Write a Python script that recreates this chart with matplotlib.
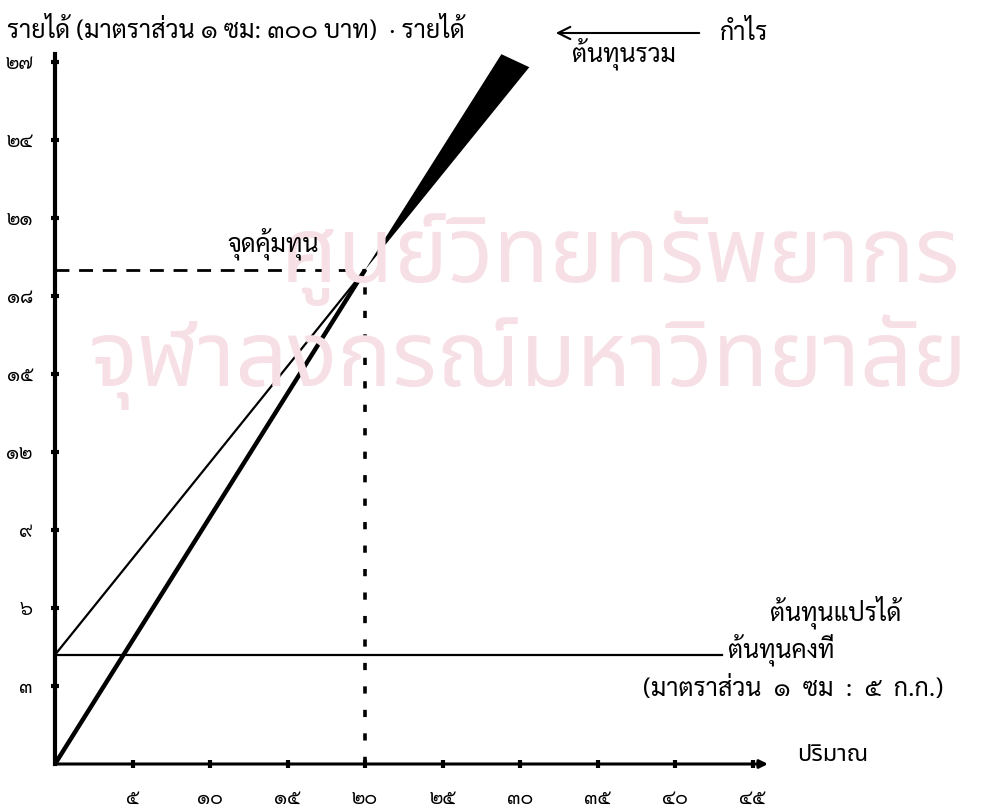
import matplotlib
matplotlib.use("Agg")
import matplotlib.pyplot as plt

plt.rcParams["font.family"] = ["Sarabun", "Noto Sans Thai", "DejaVu Sans"]

# ปริมาณ (แกน x) และ รายได้/ต้นทุน (แกน y) - ค่าประมาณจากภาพ
x_ticks = [5, 10, 15, 20, 25, 30, 35, 40, 45]
x_labels = ["๕", "๑๐", "๑๕", "๒๐", "๒๕", "๓๐", "๓๕", "๔๐", "๔๕"]
y_ticks = [3, 6, 9, 12, 15, 18, 21, 24, 27]
y_labels = ["๓", "๖", "๙", "๑๒", "๑๕", "๑๘", "๒๑", "๒๔", "๒๗"]

# เส้นรายได้
rev_x = [0, 20, 28.8]
rev_y = [0, 19.0, 27.3]
# เส้นต้นทุนรวม
tc_x = [0, 20, 30.6]
tc_y = [4.2, 19.0, 26.8]
# ต้นทุนคงที่
fc_x = [0, 43]
fc_y = [4.2, 4.2]
# จุดคุ้มทุน
bep_x = 20
bep_y = 19.0

W, H = 998, 808


def px(x, y):
    # พิกัดพิกเซลของภาพ -> figure fraction
    return x / W, 1 - y / H


fig = plt.figure(figsize=(W / 100, H / 100), dpi=100)
ax = fig.add_axes([55 / W, 44 / H, 713 / W, 27.6 * 26 / H])
ax.set_xlim(0, 46)
ax.set_ylim(0, 27.6)

# ลายน้ำ
wm = "#f7dfe6"
fig.text(*px(620, 258), "ศูนย์วิทยทรัพยากร", fontsize=66, color=wm, ha="center",
         va="center", family=["Noto Sans Thai", "DejaVu Sans"], fontweight="medium", zorder=0)
fig.text(*px(528, 362), "จุฬาลงกรณ์มหาวิทยาลัย", fontsize=66, color=wm, ha="center",
         va="center", family=["Noto Sans Thai", "DejaVu Sans"], fontweight="medium", zorder=0)

# กำไร (พื้นที่ระหว่างรายได้กับต้นทุนรวม)
ax.fill([bep_x, rev_x[2], tc_x[2]], [bep_y, rev_y[2], tc_y[2]], color="black", lw=0)

ax.plot(rev_x[:2], rev_y[:2], color="black", lw=3.2, solid_capstyle="butt")
ax.plot(tc_x[:2], tc_y[:2], color="black", lw=1.6)
ax.plot(fc_x, fc_y, color="black", lw=1.6)

ax.plot([0, bep_x], [bep_y, bep_y], color="black", lw=2, linestyle=(0, (5, 3.5)))
ax.plot([bep_x, bep_x], [0, bep_y], color="black", lw=2.6, linestyle=(0, (2, 4.5)))

# แกน
for s in ["top", "right", "bottom"]:
    ax.spines[s].set_visible(False)
ax.spines["left"].set_linewidth(3)
ax.spines["left"].set_bounds(0, 27.3)
ax.annotate("", xy=(46, 0), xytext=(0, 0),
            arrowprops=dict(arrowstyle="-|>", lw=2.2, color="black",
                            mutation_scale=12, shrinkA=0, shrinkB=0),
            annotation_clip=False)

ax.set_xticks(x_ticks, x_labels, fontsize=14)
ax.set_yticks(y_ticks, y_labels, fontsize=14)
ax.tick_params(axis="x", length=6, width=3, direction="inout", pad=22)
ax.tick_params(axis="y", length=6, width=3, direction="inout", pad=13)
for t in ax.get_xticklabels():
    t.set_va("center")

# ข้อความ
fs = 18
fig.text(*px(7, 30), "รายได้ (มาตราส่วน ๑ ซม: ๓๐๐ บาท)  · รายได้", fontsize=fs, va="center")
fig.text(*px(720, 33), "กำไร", fontsize=fs, va="center")
ax.annotate("", xy=px(553, 33), xytext=px(702, 33), xycoords="figure fraction",
            textcoords="figure fraction",
            arrowprops=dict(arrowstyle="->", lw=1.5, color="black", mutation_scale=22))
fig.text(*px(572, 54), "ต้นทุนรวม", fontsize=fs, va="center")
fig.text(*px(227, 244), "จุดคุ้มทุน", fontsize=fs, va="center")
fig.text(*px(770, 612), "ต้นทุนแปรได้", fontsize=fs, va="center")
fig.text(*px(728, 650), "ต้นทุนคงที่", fontsize=fs, va="center")
fig.text(*px(643, 690), "(มาตราส่วน  ๑  ซม  :  ๕  ก.ก.)", fontsize=fs, va="center")
fig.text(*px(797, 755), "ปริมาณ", fontsize=17, va="center",
         family=["Noto Sans Thai", "DejaVu Sans"])

fig.savefig("out.png", dpi=100)
